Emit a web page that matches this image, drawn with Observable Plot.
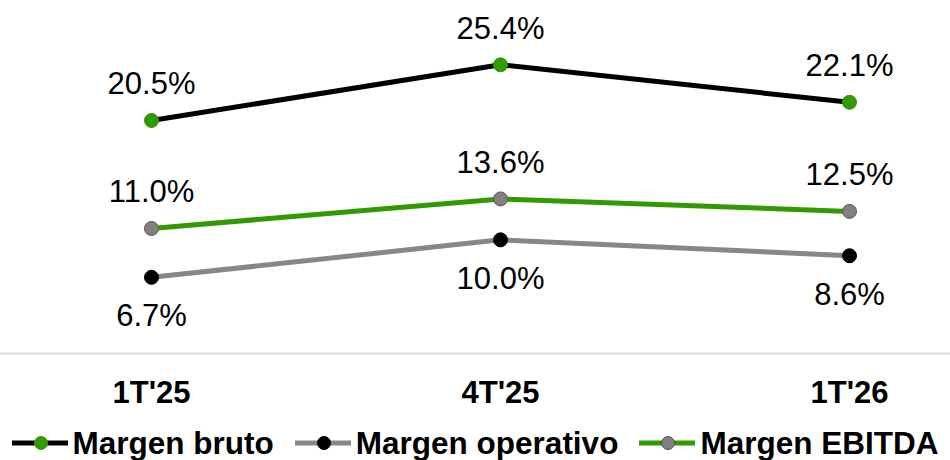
<!DOCTYPE html>
<html>
<head>
<meta charset="utf-8">
<script src="https://cdn.jsdelivr.net/npm/d3@7"></script>
<script src="https://cdn.jsdelivr.net/npm/@observablehq/plot@0.6"></script>
<style>
  body { margin: 0; background: #fff; font-family: "Liberation Sans", Arial, sans-serif; }
  #chart { position: relative; width: 950px; height: 460px; }
  #legend { position: absolute; left: 0; top: 425px; width: 950px; height: 36px;
    display: flex; justify-content: center; align-items: center; gap: 21px;
    font: bold 31.5px "Liberation Sans", Arial, sans-serif; color: #000; }
  .item { display: flex; align-items: center; gap: 5px; }
</style>
</head>
<body>
<div id="chart"></div>
<script>
const periods = ["1T'25", "4T'25", "1T'26"];
const seriesNames = ["Margen bruto", "Margen operativo", "Margen EBITDA"];
const bruto = [20.5, 25.4, 22.1];
const operativo = [6.7, 10.0, 8.6];
const ebitda = [11.0, 13.6, 12.5];

const lineColors = {"Margen bruto": "#000000", "Margen operativo": "#87878b", "Margen EBITDA": "#339900"};
const dotColors = {"Margen bruto": "#339900", "Margen operativo": "#000000", "Margen EBITDA": "#808080"};
const dotStroke = {"Margen bruto": "#339900", "Margen operativo": "#000000", "Margen EBITDA": "#555555"};

const rows = [];
[bruto, operativo, ebitda].forEach((vals, i) => {
  vals.forEach((v, j) => rows.push({series: seriesNames[i], period: periods[j], value: v}));
});
const fmt = v => v.toFixed(1) + "%";

const plot = Plot.plot({
  width: 950,
  height: 410,
  marginTop: 12,
  marginBottom: 57,
  marginLeft: 0,
  marginRight: 0,
  style: {fontFamily: "'Liberation Sans', Arial, sans-serif", background: "#fff"},
  x: {type: "point", domain: periods, range: [150, 849], padding: 0, label: null},
  y: {domain: [0, 30], axis: null},
  marks: [
    Plot.ruleY([0], {stroke: "#d9d9d9", strokeWidth: 2}),
    ...seriesNames.map(s => Plot.line(rows.filter(d => d.series === s), {
      x: "period", y: "value", stroke: lineColors[s], strokeWidth: 5, curve: "linear"
    })),
    ...seriesNames.map(s => Plot.dot(rows.filter(d => d.series === s), {
      x: "period", y: "value", r: 7, fill: dotColors[s], stroke: dotStroke[s], strokeWidth: 1
    })),
    ...seriesNames.map(s => Plot.text(rows.filter(d => d.series === s), {
      x: "period", y: "value", text: d => fmt(d.value),
      dy: s === "Margen operativo" ? 39 : -36,
      fontSize: 31, fill: "#000", textAnchor: "middle", lineAnchor: "middle"
    })),
    Plot.axisX({tickSize: 0, tickPadding: 27, fontSize: 31, fontWeight: "bold", fill: "#000", label: null})
  ]
});
document.getElementById("chart").appendChild(plot);

// legend
const legend = document.createElement("div");
legend.id = "legend";
seriesNames.forEach(s => {
  const item = document.createElement("div");
  item.className = "item";
  const sw = d3.create("svg").attr("width", 56).attr("height", 20);
  sw.append("line").attr("x1", 0).attr("x2", 56).attr("y1", 10).attr("y2", 10)
    .attr("stroke", lineColors[s]).attr("stroke-width", 5);
  sw.append("circle").attr("cx", 29).attr("cy", 10).attr("r", 6.5)
    .attr("fill", dotColors[s]).attr("stroke", dotStroke[s]).attr("stroke-width", 1);
  item.appendChild(sw.node());
  const t = document.createElement("span");
  t.textContent = s;
  item.appendChild(t);
  legend.appendChild(item);
});
document.getElementById("chart").appendChild(legend);
</script>
</body>
</html>
